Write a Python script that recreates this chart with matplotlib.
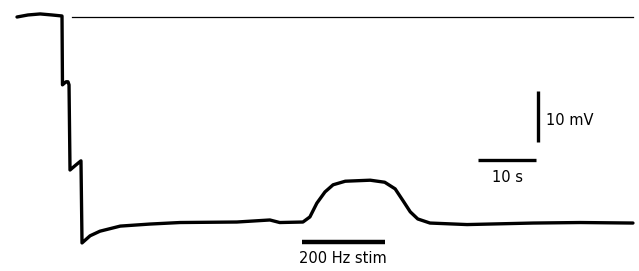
import matplotlib.pyplot as plt

# membrane potential trace (time in s, voltage in mV relative to the reference line)
time_s = [0.0, 1.9, 4.0, 6.0, 7.76, 7.84, 8.45, 8.79, 8.97, 9.14, 10.17, 11.03,
          11.21, 12.6, 14.3, 17.8, 22.9, 28.1, 37.9, 43.6, 45.3, 49.3, 50.5,
          51.7, 53.1, 54.5, 56.6, 60.9, 63.4, 65.2, 66.6, 67.8, 69.1, 71.2,
          77.6, 89.0, 97.1, 106.2]
voltage_mv = [0.0, 0.4, 0.6, 0.4, 0.2, -13.3, -12.7, -12.7, -13.3, -30.0, -29.0,
              -28.2, -44.3, -42.9, -42.0, -41.0, -40.6, -40.3, -40.2, -39.8,
              -40.3, -40.2, -39.2, -36.5, -34.3, -32.9, -32.2, -32.0, -32.4,
              -33.7, -36.1, -38.2, -39.6, -40.4, -40.7, -40.4, -40.3, -40.4]

ref_level = 0.0
ref_start, ref_end = 9.5, 106.2
stim_on, stim_off, stim_level = 49.1, 63.4, -44.1
scale_t0, scale_t1, scale_tlevel = 79.5, 89.5, -28.0
scale_vx, scale_v0, scale_v1 = 89.8, -24.5, -14.5

fig = plt.figure(figsize=(6.39, 2.71), dpi=100)
ax = fig.add_axes([0, 0, 1, 1])
ax.set_xlim(-17 / 5.8, 622 / 5.8)
ax.set_ylim(-254 / 5.1, 17 / 5.1)
ax.axis("off")

ax.plot(time_s, voltage_mv, color="black", linewidth=2.4,
        solid_joinstyle="round", solid_capstyle="round")
ax.plot([ref_start, ref_end], [ref_level, ref_level], color="black", linewidth=0.9)

# stimulus bar
ax.plot([stim_on, stim_off], [stim_level, stim_level], color="black",
        linewidth=3.2, solid_capstyle="butt")
ax.text((stim_on + stim_off) / 2, -47.3, "200 Hz stim", ha="center", va="center",
        fontsize=10.5)

# scale bars
ax.plot([scale_t0, scale_t1], [scale_tlevel, scale_tlevel], color="black",
        linewidth=2.4, solid_capstyle="butt")
ax.text((scale_t0 + scale_t1) / 2, -31.4, "10 s", ha="center", va="center",
        fontsize=10.5)
ax.plot([scale_vx, scale_vx], [scale_v0, scale_v1], color="black",
        linewidth=2.4, solid_capstyle="butt")
ax.text(scale_vx + 1.4, -20.3, "10 mV", ha="left", va="center", fontsize=10.5)

fig.savefig("out.png", dpi=100)
